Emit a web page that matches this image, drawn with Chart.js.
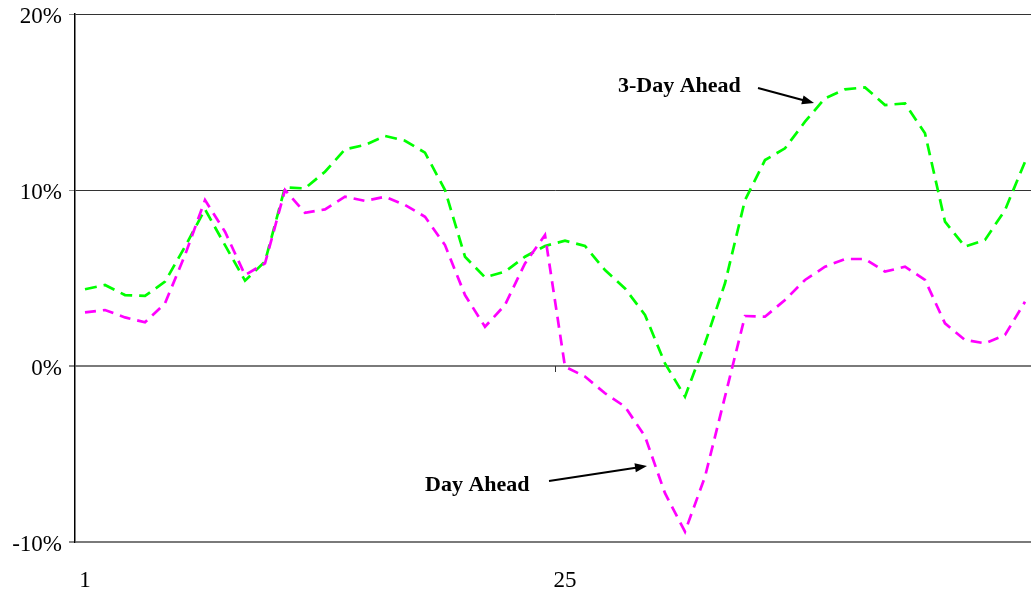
<!DOCTYPE html>
<html lang="en">
<head>
    <meta charset="UTF-8">
    <title>Day Ahead vs 3-Day Ahead</title>
    <script src="https://cdn.jsdelivr.net/npm/chart.js"></script>
    <style>
        html, body { margin: 0; padding: 0; background: #fff; overflow: hidden; }
        /* plot runs a few px past the right edge of the window, like the original */
        #wrap { width: 1035px; height: 589px; }
    </style>
</head>
<body>
    <div id="wrap"><canvas id="errChart"></canvas></div>

    <script>
        // hour / period index along the x axis
        const categories = [1,2,3,4,5,6,7,8,9,10,11,12,13,14,15,16,17,18,19,20,21,22,23,24,
                            25,26,27,28,29,30,31,32,33,34,35,36,37,38,39,40,41,42,43,44,45,46,47,48];
        const xTickLabels = ['1', '25'];
        const yTicks = [-10, 0, 10, 20];

        // values in percent
        const dayAhead = [3.05, 3.18, 2.76, 2.48, 3.56, 6.3, 9.43, 7.63, 5.17, 5.83, 10.0, 8.7,
                          8.9, 9.62, 9.38, 9.62, 9.15, 8.48, 6.87, 4.03, 2.23, 3.47, 5.83, 7.44,
                          -0.04, -0.6, -1.55, -2.31, -4.0, -7.23, -9.41, -6.29, -1.74, 2.84, 2.8, 3.75,
                          4.89, 5.64, 6.08, 6.08, 5.36, 5.64, 4.89, 2.42, 1.48, 1.29, 1.76, 3.65];
        const threeDayAhead = [4.36, 4.6, 4.03, 3.98, 4.79, 6.78, 8.9, 6.87, 4.85, 5.93, 10.15, 10.09,
                               11.04, 12.31, 12.56, 13.07, 12.8, 12.12, 10.0, 6.21, 5.04, 5.36, 6.21, 6.82,
                               7.12, 6.82, 5.45, 4.41, 2.9, 0.15, -1.74, 1.29, 4.7, 9.43, 11.7, 12.37,
                               13.88, 15.21, 15.72, 15.83, 14.83, 14.92, 13.22, 8.2, 6.78, 7.16, 8.86, 11.6];

        // labels with arrows, in data coordinates (category index, value)
        const notes = [
            { text: '3-Day Ahead', at: [26.65, 15.9], from: [33.65, 15.8], to: [36.45, 14.94] },
            { text: 'Day Ahead',   at: [17.0, -6.76], from: [23.2, -6.53], to: [28.1, -5.68] }
        ];

        const serif = '"Liberation Serif", "Times New Roman", serif';

        const notesPlugin = {
            id: 'notes',
            afterDatasetsDraw(chart) {
                const ctx = chart.ctx;
                const x = chart.scales.x, y = chart.scales.y;
                ctx.save();

                // small tick mark on the zero line between the two days
                const y0 = y.getPixelForValue(0);
                ctx.strokeStyle = '#333';
                ctx.lineWidth = 1;
                [24].forEach(i => {
                    const px = Math.round((x.getPixelForValue(i - 1) + x.getPixelForValue(i)) / 2) + 0.5;
                    ctx.beginPath();
                    ctx.moveTo(px, y0);
                    ctx.lineTo(px, y0 + 6);
                    ctx.stroke();
                });

                ctx.fillStyle = '#000';
                ctx.strokeStyle = '#000';
                ctx.font = 'bold 22px ' + serif;
                ctx.textAlign = 'left';
                ctx.textBaseline = 'middle';
                notes.forEach(n => {
                    ctx.fillText(n.text, x.getPixelForValue(n.at[0]), y.getPixelForValue(n.at[1]));
                    const x1 = x.getPixelForValue(n.from[0]), y1 = y.getPixelForValue(n.from[1]);
                    const x2 = x.getPixelForValue(n.to[0]), y2 = y.getPixelForValue(n.to[1]);
                    const a = Math.atan2(y2 - y1, x2 - x1);
                    ctx.lineWidth = 2;
                    ctx.beginPath();
                    ctx.moveTo(x1, y1);
                    ctx.lineTo(x2 - 8 * Math.cos(a), y2 - 8 * Math.sin(a));
                    ctx.stroke();
                    ctx.beginPath();
                    ctx.moveTo(x2, y2);
                    ctx.lineTo(x2 - 12 * Math.cos(a) + 4.5 * Math.sin(a), y2 - 12 * Math.sin(a) - 4.5 * Math.cos(a));
                    ctx.lineTo(x2 - 12 * Math.cos(a) - 4.5 * Math.sin(a), y2 - 12 * Math.sin(a) + 4.5 * Math.cos(a));
                    ctx.closePath();
                    ctx.fill();
                });
                ctx.restore();
            }
        };

        const ctx = document.getElementById('errChart').getContext('2d');
        new Chart(ctx, {
            type: 'line',
            data: {
                labels: categories,
                datasets: [
                    {
                        label: 'Day Ahead',
                        data: dayAhead,
                        borderColor: '#ff00ff',
                        borderWidth: 2.7,
                        borderDash: [11, 7],
                        pointRadius: 0,
                        tension: 0,
                        fill: false
                    },
                    {
                        label: '3-Day Ahead',
                        data: threeDayAhead,
                        borderColor: '#00ff00',
                        borderWidth: 2.7,
                        borderDash: [12, 7],
                        pointRadius: 0,
                        tension: 0,
                        fill: false
                    }
                ]
            },
            options: {
                responsive: true,
                maintainAspectRatio: false,
                animation: false,
                layout: { padding: { top: 14, right: 0, bottom: 0, left: 0 } },
                plugins: {
                    legend: { display: false },
                    tooltip: { enabled: false }
                },
                scales: {
                    x: {
                        type: 'category',
                        offset: true,
                        grid: { display: false },
                        border: { display: false },
                        ticks: {
                            autoSkip: false,
                            maxRotation: 0,
                            padding: 17,
                            color: '#000',
                            font: { family: serif, size: 23 },
                            callback: (v, i) => xTickLabels.includes(String(categories[i])) ? String(categories[i]) : ''
                        },
                        // fixed axis height, and no extra side padding from the tick labels
                        afterFit: s => { s.height = 47; s.paddingLeft = 0; s.paddingRight = 0; }
                    },
                    y: {
                        min: yTicks[0],
                        max: yTicks[yTicks.length - 1],
                        afterBuildTicks: s => { s.ticks = yTicks.map(v => ({ value: v })); },
                        grid: {
                            color: c => (c.tick && c.tick.value <= 0) ? '#7a7a7a' : '#333',
                            lineWidth: c => (c.tick && c.tick.value <= 0) ? 2 : 1,
                            tickColor: '#888',
                            tickLength: 6
                        },
                        border: { color: '#000', width: 1.5 },
                        ticks: {
                            padding: 7,
                            labelOffset: 3,
                            color: '#000',
                            font: { family: serif, size: 23 },
                            callback: v => v + '%'
                        },
                        afterFit: s => { s.width = 75; s.paddingTop = 0; s.paddingBottom = 0; }
                    }
                }
            },
            plugins: [notesPlugin]
        });
    </script>
</body>
</html>
